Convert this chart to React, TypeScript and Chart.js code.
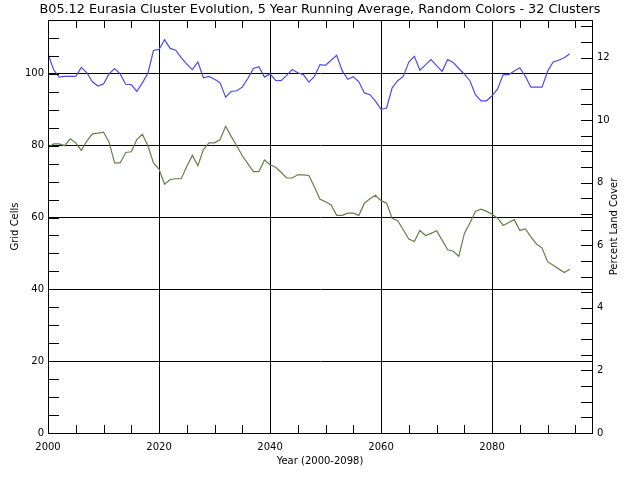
import React, { useEffect, useRef } from "react";
import { Chart, registerables } from "chart.js";

Chart.register(...registerables);

const TITLE = "B05.12 Eurasia Cluster Evolution, 5 Year Running Average, Random Colors - 32 Clusters";
const X_TITLE = "Year (2000-2098)";
const Y_TITLE = "Grid Cells";
const Y2_TITLE = "Percent Land Cover";

const YEARS = [
  2000, 2001, 2002, 2003, 2004, 2005, 2006, 2007, 2008, 2009,
  2010, 2011, 2012, 2013, 2014, 2015, 2016, 2017, 2018, 2019,
  2020, 2021, 2022, 2023, 2024, 2025, 2026, 2027, 2028, 2029,
  2030, 2031, 2032, 2033, 2034, 2035, 2036, 2037, 2038, 2039,
  2040, 2041, 2042, 2043, 2044, 2045, 2046, 2047, 2048, 2049,
  2050, 2051, 2052, 2053, 2054, 2055, 2056, 2057, 2058, 2059,
  2060, 2061, 2062, 2063, 2064, 2065, 2066, 2067, 2068, 2069,
  2070, 2071, 2072, 2073, 2074, 2075, 2076, 2077, 2078, 2079,
  2080, 2081, 2082, 2083, 2084, 2085, 2086, 2087, 2088, 2089,
  2090, 2091, 2092, 2093, 2094,
];

// Blue cluster (grid cells)
const BLUE_CLUSTER = [
  105.6, 101.2, 99.1, 99.3, 99.3, 99.3, 101.8, 100.3, 97.8, 96.6,
  97.2, 100.0, 101.5, 100.0, 97.1, 97.0, 95.1, 97.5, 100.2, 106.5,
  106.8, 109.5, 107.1, 106.6, 104.5, 102.7, 101.2, 103.3, 98.9, 99.3,
  98.5, 97.5, 93.5, 95.1, 95.3, 96.3, 98.7, 101.5, 102.0, 99.1,
  100.0, 98.2, 98.1, 99.6, 101.2, 100.3, 99.8, 97.7, 99.3, 102.6,
  102.4, 103.8, 105.2, 100.9, 98.5, 99.2, 97.8, 94.7, 94.2, 92.4,
  90.1, 90.5, 96.1, 98.1, 99.3, 103.3, 104.9, 101.0, 102.5, 104.0,
  102.3, 100.7, 104.0, 103.2, 101.5, 99.9, 98.1, 94.2, 92.5, 92.5,
  93.9, 95.8, 99.8, 99.8, 100.8, 101.7, 99.3, 96.3, 96.3, 96.3,
  100.7, 103.3, 103.8, 104.5, 105.6,
];

// Green cluster (grid cells)
const GREEN_CLUSTER = [
  79.4, 80.5, 80.5, 80.0, 81.9, 80.8, 78.7, 81.3, 83.3, 83.5,
  83.8, 81.0, 75.2, 75.2, 78.1, 78.3, 81.7, 83.2, 80.0, 75.2,
  73.5, 69.3, 70.6, 70.8, 70.8, 74.2, 77.3, 74.4, 78.9, 80.8,
  80.8, 81.7, 85.4, 82.6, 80.0, 77.2, 75.0, 72.8, 72.8, 76.0,
  74.7, 74.0, 72.6, 71.0, 71.0, 71.9, 71.9, 71.7, 68.5, 65.1,
  64.4, 63.5, 60.6, 60.6, 61.2, 61.2, 60.6, 64.0, 65.2, 66.2,
  64.7, 64.0, 59.8, 59.1, 56.6, 54.0, 53.3, 56.4, 55.0, 55.6,
  56.3, 53.7, 51.0, 50.6, 49.2, 55.5, 58.5, 61.7, 62.3, 61.7,
  60.9, 59.8, 57.8, 58.6, 59.4, 56.4, 56.8, 54.6, 52.6, 51.5,
  47.7, 46.7, 45.7, 44.7, 45.6,
];

const X_MIN = 2000;
const X_MAX = 2098;
const X_MAJOR_STEP = 20;
const X_MINOR_STEP = 5;
const Y_MIN = 0;
const Y_MAX = 115;
const Y_MAJOR_STEP = 20;
const Y_MINOR_STEP = 5;
const Y2_MAX = 13.2;
const Y2_MAJOR_STEP = 2;
const Y2_MINOR_STEP = 0.5;

const BLUE = "rgb(76,76,235)";
const GREEN = "rgb(100,128,72)";
const FONT = "DejaVu Sans";

const framePlugin = {
  id: "idlFrame",
  afterDraw(chart: any) {
    const { ctx, chartArea, scales } = chart;
    const { left, right, top, bottom } = chartArea;
    ctx.save();
    ctx.strokeStyle = "#000";
    ctx.lineWidth = 1;
    ctx.beginPath();
    ctx.rect(Math.round(left) + 0.5, Math.round(top) + 0.5, Math.round(right - left), Math.round(bottom - top));
    ctx.stroke();

    ctx.beginPath();
    const xs = scales.x;
    for (let v = X_MIN; v <= X_MAX + 1e-9; v += X_MINOR_STEP) {
      const px = Math.round(xs.getPixelForValue(v)) + 0.5;
      ctx.moveTo(px, bottom);
      ctx.lineTo(px, bottom - 8);
      ctx.moveTo(px, top);
      ctx.lineTo(px, top + 8);
    }
    const ys = scales.y;
    for (let v = Y_MIN; v <= Y_MAX + 1e-9; v += Y_MINOR_STEP) {
      const py = Math.round(ys.getPixelForValue(v)) + 0.5;
      ctx.moveTo(left, py);
      ctx.lineTo(left + 11, py);
    }
    const y2 = scales.y2;
    for (let v = 0; v <= Y2_MAX + 1e-9; v += Y2_MINOR_STEP) {
      const py = Math.round(y2.getPixelForValue(v)) + 0.5;
      ctx.moveTo(right, py);
      ctx.lineTo(right - 11, py);
    }
    ctx.stroke();

    ctx.fillStyle = "#000";
    ctx.font = `10px "${FONT}"`;
    ctx.textAlign = "center";
    ctx.textBaseline = "middle";
    ctx.translate(614, (top + bottom) / 2);
    ctx.rotate(-Math.PI / 2);
    ctx.fillText(Y2_TITLE, 0, 0);
    ctx.restore();
  },
};

export default function App() {
  const canvasRef = useRef<HTMLCanvasElement | null>(null);

  useEffect(() => {
    const canvas = canvasRef.current;
    if (!canvas) return;
    const chart = new Chart(canvas, {
      type: "line",
      data: {
        labels: YEARS,
        datasets: [
          {
            label: "Blue cluster",
            data: BLUE_CLUSTER,
            borderColor: BLUE,
            borderWidth: 1.2,
            pointRadius: 0,
            tension: 0,
            fill: false,
            yAxisID: "y",
          },
          {
            label: "Green cluster",
            data: GREEN_CLUSTER,
            borderColor: GREEN,
            borderWidth: 1.2,
            pointRadius: 0,
            tension: 0,
            fill: false,
            yAxisID: "y",
          },
        ],
      },
      options: {
        responsive: false,
        animation: false,
        devicePixelRatio: 1,
        layout: { padding: 0 },
        plugins: {
          legend: { display: false },
          tooltip: { enabled: false },
          title: {
            display: true,
            text: TITLE,
            color: "#000",
            font: { family: FONT, size: 12.8, weight: "normal", lineHeight: 1.1 },
            padding: { top: 3, bottom: 2.92 },
          },
        },
        scales: {
          x: {
            type: "linear",
            min: X_MIN,
            max: X_MAX,
            ticks: {
              stepSize: X_MAJOR_STEP,
              includeBounds: false,
              color: "#000",
              font: { family: FONT, size: 10 },
              padding: 8,
              maxRotation: 0,
              autoSkip: false,
              callback: (v: any) => String(v),
            },
            grid: { color: "#000", lineWidth: 1, drawTicks: false },
            border: { color: "#000", width: 1 },
            title: {
              display: true,
              text: X_TITLE,
              color: "#000",
              font: { family: FONT, size: 10 },
              padding: { top: 0, bottom: 13 },
            },
            afterFit: (s: any) => {
              s.height = 47;
            },
          },
          y: {
            type: "linear",
            position: "left",
            min: Y_MIN,
            max: Y_MAX,
            ticks: {
              stepSize: Y_MAJOR_STEP,
              includeBounds: false,
              color: "#000",
              font: { family: FONT, size: 10 },
              padding: 4,
            },
            grid: { color: "#000", lineWidth: 1, drawTicks: false },
            border: { color: "#000", width: 1 },
            title: {
              display: true,
              text: Y_TITLE,
              color: "#000",
              font: { family: FONT, size: 10 },
              padding: { top: 9, bottom: 0 },
            },
            afterFit: (s: any) => {
              s.width = 48;
            },
          },
          y2: {
            type: "linear",
            position: "right",
            min: 0,
            max: Y2_MAX,
            ticks: {
              stepSize: Y2_MAJOR_STEP,
              includeBounds: false,
              color: "#000",
              font: { family: FONT, size: 10 },
              padding: 5,
            },
            grid: { display: false, drawTicks: false },
            border: { color: "#000", width: 1 },
            afterFit: (s: any) => {
              s.width = 48;
            },
          },
        },
      },
      plugins: [framePlugin],
    });
    return () => chart.destroy();
  }, []);

  return (
    <div style={{ position: "absolute", left: 0, top: 0, width: 640, height: 480, background: "#fff" }}>
      <canvas ref={canvasRef} width={640} height={480} />
    </div>
  );
}
